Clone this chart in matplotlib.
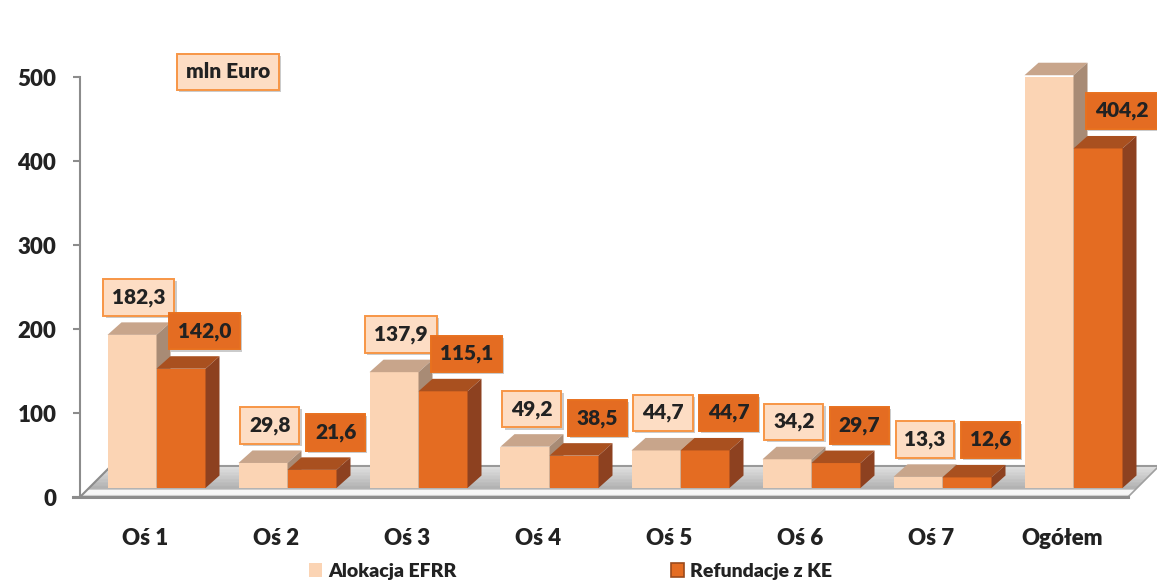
import matplotlib
import matplotlib.pyplot as plt
import matplotlib.patheffects as pe
import numpy as np
from matplotlib.patches import Polygon, Patch
from matplotlib.colors import to_rgb

matplotlib.use("Agg")

plt.rcParams['font.family'] = ['Lato', 'DejaVu Sans']
plt.rcParams['font.weight'] = 'heavy'
FW = 'heavy'

categories = ['Oś 1', 'Oś 2', 'Oś 3', 'Oś 4', 'Oś 5', 'Oś 6', 'Oś 7', 'Ogółem']
alokacja = [182.3, 29.8, 137.9, 49.2, 44.7, 34.2, 13.3, 491.4]
refundacje = [142.0, 21.6, 115.1, 38.5, 44.7, 29.7, 12.6, 404.2]
series_names = ['Alokacja EFRR', 'Refundacje z KE']
y_ticks = [0, 100, 200, 300, 400, 500]

# colours: front, top, side
light = ('#FBD4B4', '#C8A58B', '#A88B75')
dark = ('#E46C22', '#A9501F', '#8D4120')
text_col = '#222222'
axis_col = '#8c8c8c'

# pseudo-3d geometry (data units: 1 category = 131 px, 1 unit = 0.84 px)
PX_X = 131.0
PX_Y = 0.84
W = 49 / PX_X            # bar width
BSX, BSY = 11 / PX_X, 9 / PX_Y      # bar base shift into the floor
BDX, BDY = 14 / PX_X, 12.5 / PX_Y   # bar depth
FDX, FDY = 31 / PX_X, 31 / PX_Y     # floor depth

fig = plt.figure(figsize=(11.57, 5.84), dpi=100)
ax = fig.add_axes([80 / 1157, 87 / 584, 1048 / 1157, 420 / 584])
ax.set_xlim(-0.5, len(categories) - 0.5)
ax.set_ylim(0, 500)

# floor
x0, x1 = -0.5, len(categories) - 0.5
n = 40
ts = np.linspace(0, 1, n + 1)
c_back = np.array(to_rgb('#e0e0e0'))
c_mid = np.array(to_rgb('#acacac'))
for t0, t1 in zip(ts[:-1], ts[1:]):
    tm = (t0 + t1) / 2
    if tm < 0.08:
        col = to_rgb('#cdcdcd')
    elif tm < 0.26:
        col = to_rgb('#f6f6f6')
    else:
        k = (tm - 0.26) / 0.74
        col = tuple(c_mid * (1 - k) + c_back * k)
    poly = Polygon([(x0 + t0 * FDX, t0 * FDY), (x1 + t0 * FDX, t0 * FDY),
                    (x1 + t1 * FDX, t1 * FDY), (x0 + t1 * FDX, t1 * FDY)],
                   closed=True, facecolor=col, edgecolor=col, lw=0.3,
                   clip_on=False, zorder=1)
    ax.add_patch(poly)
ax.plot([x0, x0 + FDX], [0, FDY], color=axis_col, lw=1.5, clip_on=False, zorder=1.5)
ax.plot([x1, x1 + FDX], [0, FDY], color='#a0a0a0', lw=1.2, clip_on=False, zorder=1.5)
ax.plot([x0 + FDX, x1 + FDX], [FDY, FDY], color='#9a9a9a', lw=1.5, clip_on=False, zorder=1.5)
ax.plot([x0 - 7 / PX_X, x1], [0, 0], color=axis_col, lw=2.2, clip_on=False, zorder=1.5)


def draw_bar(left, value, cols):
    front, top, side = cols
    b = BSY
    r = left + W
    ax.bar(left, value, width=W, bottom=b, align='edge', color=front,
           edgecolor='none', zorder=3)
    ax.add_patch(Polygon([(left, b + value), (r, b + value),
                          (r + BDX, b + value + BDY), (left + BDX, b + value + BDY)],
                         closed=True, facecolor=top, edgecolor='none', zorder=3, clip_on=False))
    ax.add_patch(Polygon([(r, b), (r + BDX, b + BDY),
                          (r + BDX, b + value + BDY), (r, b + value)],
                         closed=True, facecolor=side, edgecolor='none', zorder=3, clip_on=False))


def fmt(v):
    return f'{v:.1f}'.replace('.', ',')


shadow = [pe.SimplePatchShadow(offset=(1.5, -1.5), shadow_rgbFace='#999999', alpha=0.5), pe.Normal()]

for i in range(len(categories)):
    xc = i + BSX
    draw_bar(xc - W, alokacja[i], light)
    draw_bar(xc, refundacje[i], dark)

    a = ax.annotate(fmt(alokacja[i]), xy=(xc - W / 2, BSY + alokacja[i]),
                    xytext=(5, 27), textcoords='offset points', ha='center', va='center',
                    fontsize=15, fontweight=FW, color=text_col, zorder=5,
                    bbox=dict(boxstyle='square,pad=0.42', fc='#FDDDC4', ec='#F79646', lw=1.4))
    a.get_bbox_patch().set_path_effects(shadow)
    b = ax.annotate(fmt(refundacje[i]), xy=(xc + W / 2, BSY + refundacje[i]),
                    xytext=(17, 27), textcoords='offset points', ha='center', va='center',
                    fontsize=15, fontweight=FW, color=text_col, zorder=5,
                    bbox=dict(boxstyle='square,pad=0.42', fc='#E46C22', ec='#E8711F', lw=1.4))
    b.get_bbox_patch().set_path_effects(shadow)

# unit box
u = ax.text(0.141, 1.012, 'mln Euro', transform=ax.transAxes, ha='center', va='center',
            fontsize=15, fontweight=FW, color=text_col, zorder=5,
            bbox=dict(boxstyle='square,pad=0.42', fc='#FDDDC4', ec='#F79646', lw=1.4))
u.get_bbox_patch().set_path_effects(shadow)

# axes
for s in ['top', 'right', 'bottom']:
    ax.spines[s].set_visible(False)
ax.spines['left'].set_color(axis_col)
ax.spines['left'].set_linewidth(1.5)
ax.set_yticks(y_ticks)
ax.set_yticklabels([str(t) for t in y_ticks])
ax.tick_params(axis='y', length=5, width=1.5, color=axis_col, pad=12,
               labelsize=16, labelcolor=text_col)
ax.set_xticks(range(len(categories)))
ax.set_xticklabels(categories)
ax.tick_params(axis='x', length=0, pad=22, labelsize=16, labelcolor=text_col)
for lab in ax.get_xticklabels() + ax.get_yticklabels():
    lab.set_fontweight(FW)

handles = [Patch(facecolor=light[0], edgecolor='none'),
           Patch(facecolor=dark[0], edgecolor='#9B4A1B', lw=1.2)]
fig.legend(handles, series_names, loc='center', bbox_to_anchor=(0.493, 0.022), ncol=2,
           frameon=False, columnspacing=11.0, handlelength=0.7, handleheight=0.7,
           handletextpad=0.3, prop={'weight': FW, 'size': 14}, labelcolor=text_col)

fig.savefig('out.png', dpi=100)
